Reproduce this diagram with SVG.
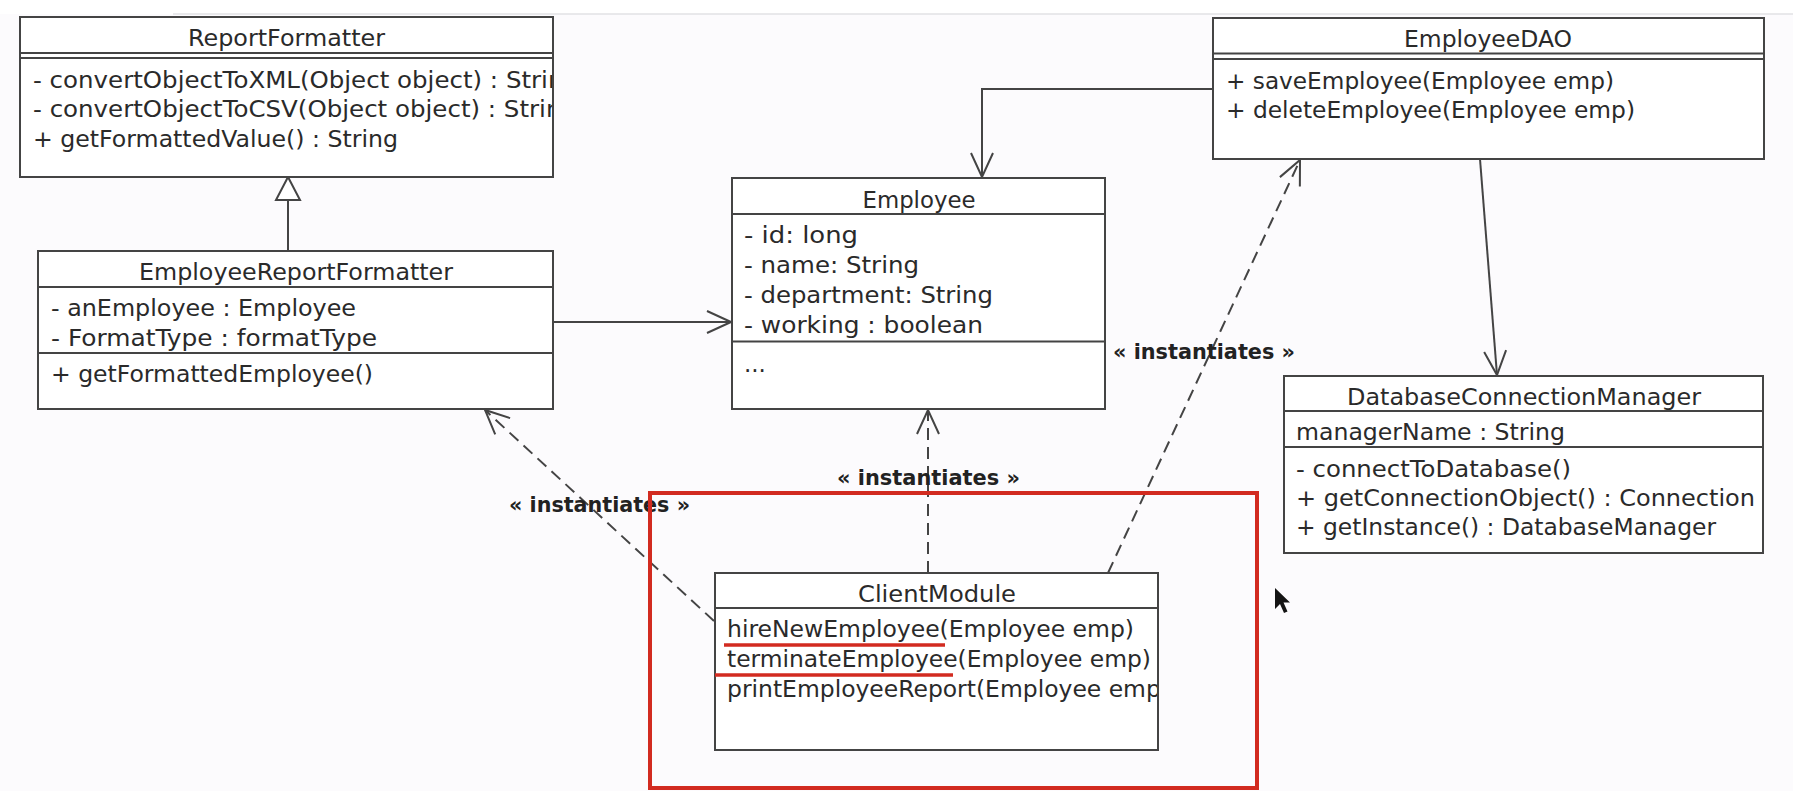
<svg xmlns="http://www.w3.org/2000/svg" width="1793" height="791" viewBox="0 0 1793 791">
  <style>
    .box { fill: #ffffff; stroke: #444444; stroke-width: 2; }
    .sep { stroke: #444444; stroke-width: 2; }
    .t { font-family: "DejaVu Sans", "Liberation Sans", sans-serif; font-size: 23px; fill: #2a2a2a; }
    .title { text-anchor: middle; }
    .lbl { font-family: "DejaVu Sans", "Liberation Sans", sans-serif; font-weight: bold; font-size: 22px; fill: #222222; }
    .edge { fill: none; stroke: #444444; stroke-width: 2; }
    .dash { stroke-dasharray: 12 7; }
    .red { fill: none; stroke: #d22b20; }
  </style>
  <defs>
    <marker id="open" markerUnits="userSpaceOnUse" markerWidth="30" markerHeight="28" viewBox="-28 -14 30 28" refX="0" refY="0" orient="auto">
      <path d="M-24,-11 L0,0 L-24,11" fill="none" stroke="#444444" stroke-width="2"/>
    </marker>
    <clipPath id="clipRF"><rect x="20" y="58" width="532" height="118"/></clipPath>
    <clipPath id="clipCM"><rect x="715" y="608" width="442" height="141"/></clipPath>
  </defs>

  <rect x="0" y="0" width="1793" height="791" fill="#ffffff"/>
  <rect x="0" y="14" width="1793" height="777" fill="#fcfbfd"/>
  <line x1="173" y1="14" x2="1793" y2="14" stroke="#e2e2e4" stroke-width="1.5"/>

  <g id="connectors">
    <path class="edge" d="M288,251 L288,200"/>
    <path d="M288,177 L276,200 L300,200 Z" fill="#ffffff" stroke="#444444" stroke-width="2"/>
    <path class="edge" d="M553,322 L731,322" marker-end="url(#open)"/>
    <path class="edge" d="M1213,89 L982,89 L982,177" marker-end="url(#open)"/>
    <path class="edge" d="M1480,159 L1497,375" marker-end="url(#open)"/>
    <path class="edge dash" d="M714,621 L485,410" marker-end="url(#open)"/>
    <path class="edge dash" d="M928,573 L928,410" marker-end="url(#open)"/>
    <path class="edge dash" d="M1108,573 L1300,160" marker-end="url(#open)"/>
    <text class="lbl" x="1113" y="359" textLength="182" lengthAdjust="spacingAndGlyphs">« instantiates »</text>
    <text class="lbl" x="837" y="485" textLength="183" lengthAdjust="spacingAndGlyphs">« instantiates »</text>
    <text class="lbl" x="509" y="512" textLength="181" lengthAdjust="spacingAndGlyphs">« instantiates »</text>
  </g>

  <g id="ReportFormatter">
    <rect class="box" x="20" y="17" width="533" height="160"/>
    <line class="sep" x1="20" y1="53" x2="553" y2="53"/>
    <line class="sep" x1="20" y1="58" x2="553" y2="58"/>
    <text class="t title" x="286.5" y="46" textLength="197" lengthAdjust="spacingAndGlyphs">ReportFormatter</text>
    <g clip-path="url(#clipRF)">
      <text class="t" x="33" y="88" textLength="546" lengthAdjust="spacingAndGlyphs">- convertObjectToXML(Object object) : String</text>
      <text class="t" x="33" y="117" textLength="544" lengthAdjust="spacingAndGlyphs">- convertObjectToCSV(Object object) : String</text>
    </g>
    <text class="t" x="33" y="147" textLength="365" lengthAdjust="spacingAndGlyphs">+ getFormattedValue() : String</text>
  </g>

  <g id="EmployeeReportFormatter">
    <rect class="box" x="38" y="251" width="515" height="158"/>
    <line class="sep" x1="38" y1="287" x2="553" y2="287"/>
    <line class="sep" x1="38" y1="353" x2="553" y2="353"/>
    <text class="t title" x="296" y="280" textLength="314" lengthAdjust="spacingAndGlyphs">EmployeeReportFormatter</text>
    <text class="t" x="51" y="316" textLength="305" lengthAdjust="spacingAndGlyphs">- anEmployee : Employee</text>
    <text class="t" x="51" y="346" textLength="326" lengthAdjust="spacingAndGlyphs">- FormatType : formatType</text>
    <text class="t" x="51" y="382" textLength="322" lengthAdjust="spacingAndGlyphs">+ getFormattedEmployee()</text>
  </g>

  <g id="Employee">
    <rect class="box" x="732" y="178" width="373" height="231"/>
    <line class="sep" x1="732" y1="214" x2="1105" y2="214"/>
    <line class="sep" x1="732" y1="341.5" x2="1105" y2="341.5"/>
    <text class="t title" x="919" y="208" textLength="113" lengthAdjust="spacingAndGlyphs">Employee</text>
    <text class="t" x="744" y="243" textLength="114" lengthAdjust="spacingAndGlyphs">- id: long</text>
    <text class="t" x="744" y="273" textLength="175" lengthAdjust="spacingAndGlyphs">- name: String</text>
    <text class="t" x="744" y="303" textLength="249" lengthAdjust="spacingAndGlyphs">- department: String</text>
    <text class="t" x="744" y="333" textLength="239" lengthAdjust="spacingAndGlyphs">- working : boolean</text>
    <text class="t" x="744" y="372">...</text>
  </g>

  <g id="EmployeeDAO">
    <rect class="box" x="1213" y="18" width="551" height="141"/>
    <line class="sep" x1="1213" y1="53.5" x2="1764" y2="53.5"/>
    <line class="sep" x1="1213" y1="59" x2="1764" y2="59"/>
    <text class="t title" x="1488" y="46.5" textLength="168" lengthAdjust="spacingAndGlyphs">EmployeeDAO</text>
    <text class="t" x="1226" y="89" textLength="388" lengthAdjust="spacingAndGlyphs">+ saveEmployee(Employee emp)</text>
    <text class="t" x="1226" y="118" textLength="409" lengthAdjust="spacingAndGlyphs">+ deleteEmployee(Employee emp)</text>
  </g>

  <g id="DatabaseConnectionManager">
    <rect class="box" x="1284" y="376" width="479" height="177"/>
    <line class="sep" x1="1284" y1="411" x2="1763" y2="411"/>
    <line class="sep" x1="1284" y1="447" x2="1763" y2="447"/>
    <text class="t title" x="1524" y="405" textLength="354" lengthAdjust="spacingAndGlyphs">DatabaseConnectionManager</text>
    <text class="t" x="1296" y="440" textLength="269" lengthAdjust="spacingAndGlyphs">managerName : String</text>
    <text class="t" x="1296" y="477" textLength="275" lengthAdjust="spacingAndGlyphs">- connectToDatabase()</text>
    <text class="t" x="1296" y="506" textLength="459" lengthAdjust="spacingAndGlyphs">+ getConnectionObject() : Connection</text>
    <text class="t" x="1296" y="535" textLength="420" lengthAdjust="spacingAndGlyphs">+ getInstance() : DatabaseManager</text>
  </g>

  <g id="ClientModule">
    <rect class="box" x="715" y="573" width="443" height="177"/>
    <line class="sep" x1="715" y1="608" x2="1158" y2="608"/>
    <text class="t title" x="937" y="602" textLength="158" lengthAdjust="spacingAndGlyphs">ClientModule</text>
    <text class="t" x="727" y="637" textLength="407" lengthAdjust="spacingAndGlyphs">hireNewEmployee(Employee emp)</text>
    <text class="t" x="727" y="667" textLength="424" lengthAdjust="spacingAndGlyphs">terminateEmployee(Employee emp)</text>
    <g clip-path="url(#clipCM)">
      <text class="t" x="727" y="697" textLength="443" lengthAdjust="spacingAndGlyphs">printEmployeeReport(Employee emp)</text>
    </g>
  </g>

  <g id="annotation">
    <rect class="red" x="650" y="493" width="607" height="295" stroke-width="4"/>
    <line class="red" x1="724" y1="645" x2="945" y2="645" stroke-width="3.5"/>
    <line class="red" x1="715" y1="675" x2="953" y2="675" stroke-width="3.5"/>
  </g>

  <g id="cursor">
    <path d="M1275,588 L1275,609 L1280,604 L1284,613 L1287.5,611.5 L1283.5,602.5 L1290,602.5 Z" fill="#141414"/>
  </g>
</svg>
